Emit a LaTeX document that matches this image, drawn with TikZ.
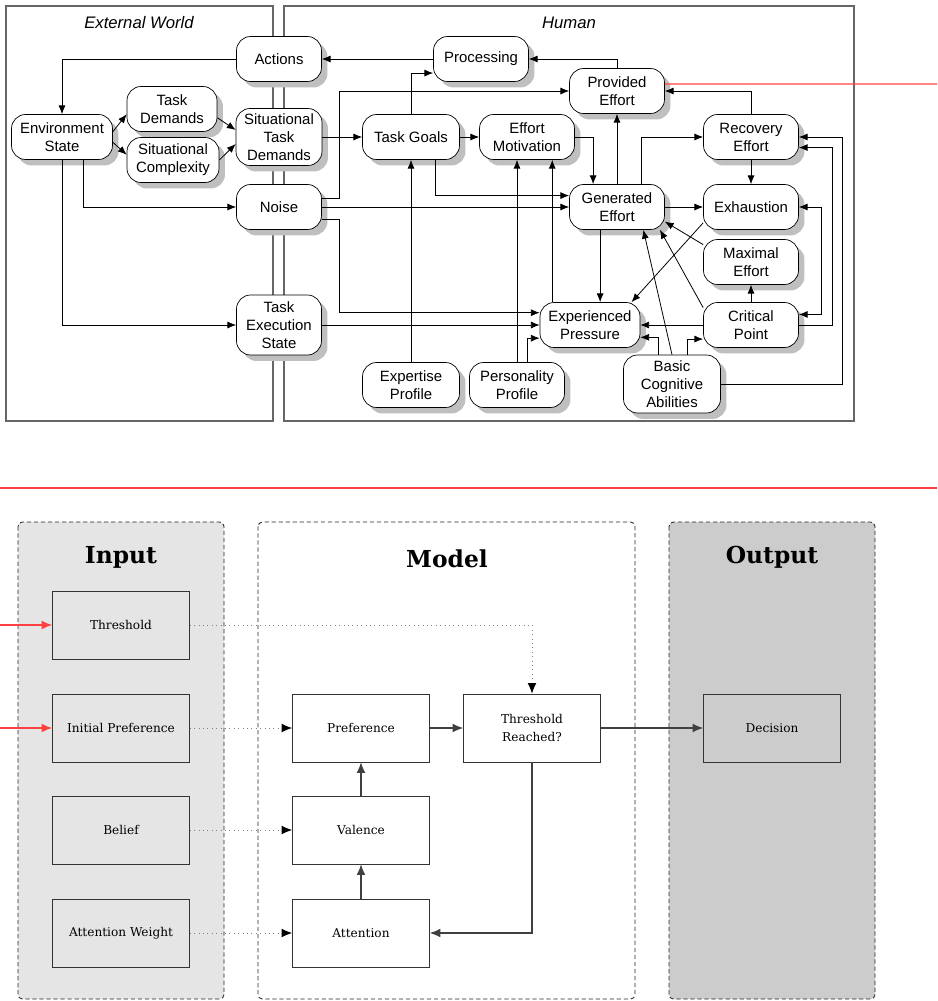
\documentclass[tikz,border=0pt]{standalone}
\usepackage{fontspec}
\setmainfont{DejaVu Serif}
\newfontfamily\arialfont{Liberation Sans}
\usetikzlibrary{shadows,arrows.meta}

\tikzset{
  state/.style={draw, fill=white, rounded corners=8pt, align=center,
    minimum width=1.9cm, minimum height=0.9cm, inner sep=1pt,
    font=\arialfont\fontsize{8.5}{10.2}\selectfont,
    general shadow={fill=gray!50, shadow xshift=3.4pt, shadow yshift=-3.4pt}},
  area/.style={draw=black!60, line width=0.9pt},
  title/.style={font=\arialfont\itshape\fontsize{9.5}{11}\selectfont},
  link/.style={-{Latex[length=5pt,width=4pt]}, line width=0.45pt},
  tap/.style={red!75, line width=0.7pt},
  blk/.style={draw=black!80, minimum width=2.74cm, minimum height=1.36cm,
    align=center, font=\fontsize{6.9}{9.8}\selectfont},
  panel/.style={draw=black!85, line width=0.5pt,
    dash pattern=on 2.4pt off 1.6pt, rounded corners=2.5pt},
  head/.style={anchor=base, font=\bfseries\fontsize{13.3}{16}\selectfont},
  feed/.style={-{Latex[length=6pt,width=5pt,black]}, gray, dotted, line width=0.5pt},
  flow/.style={-{Latex[length=6pt,width=5pt]}, black!75, line width=0.6pt},
}

\begin{document}
\begin{tikzpicture}[x=0.02cm, y=-0.02cm]
\useasboundingbox (0,0) rectangle (937,1001);

% world and human
\draw[area] (6,6) rectangle (273,421);
\draw[area] (284,6) rectangle (854,421);
\node[title] (ew) at (139,23) {External World};
\node[title] (hum) at (569,23) {Human};

\node[state, minimum width=1.7cm] (act) at (279,59) {Actions};
\node[state] (proc) at (481,59) {Processing};
\node[state] (prov) at (617,91) {Provided\\Effort};
\node[state, minimum width=2.02cm] (env) at (62,137) {Environment\\State};
\node[state, minimum width=1.8cm] (td) at (172,109) {Task\\Demands};
\node[state, minimum width=1.84cm] (sc) at (173,160) {Situational\\Complexity};
\node[state, minimum width=1.72cm, minimum height=1.14cm] (std) at (279,137) {Situational\\Task\\Demands};
\node[state, minimum width=1.94cm] (tg) at (411,137) {Task Goals};
\node[state] (em) at (527,137) {Effort\\Motivation};
\node[state] (re) at (751,137) {Recovery\\Effort};
\node[state, minimum width=1.7cm] (noise) at (279,207) {Noise};
\node[state] (ge) at (617,207) {Generated\\Effort};
\node[state] (exh) at (751,207) {Exhaustion};
\node[state] (me) at (751,262) {Maximal\\Effort};
\node[state, minimum width=2cm] (ep) at (590,325) {Experienced\\Pressure};
\node[state] (cp) at (751,325) {Critical\\Point};
\node[state, minimum width=1.7cm, minimum height=1.2cm] (tes) at (279,325) {Task\\Execution\\State};
\node[state, minimum width=1.94cm] (exp) at (411,385) {Expertise\\Profile};
\node[state] (pp) at (517,385) {Personality\\Profile};
\node[state, minimum width=1.94cm, minimum height=1.16cm] (bca) at (672,384) {Basic\\Cognitive\\Abilities};

\draw[link] (act) -| (env);
\draw[link] (proc) -- (act);
\draw[link] (prov) |- (proc);
\draw[link] ([yshift=3pt]env.east) -- ([yshift=-3pt]td.west);
\draw[link] ([yshift=-3pt]env.east) -- ([yshift=3pt]sc.west);
\draw[link] ([yshift=-5pt]td.east) -- ([yshift=4pt]std.west);
\draw[link] (sc.east) -- ([yshift=-4pt]std.west);
\draw[link] (std) -- (tg);
\draw[link] (tg) |- ([yshift=-8pt]proc.west);
\draw[link] ([yshift=5pt]noise.east) -- ++(18,0) |- (prov);
\draw[link] (tg) -- (em);
\draw[link] ([xshift=14pt]tg.south) |- ([yshift=6.5pt]ge.west);
\draw[link] (noise) -- (ge);
\draw[link] (em) -| ([xshift=-13.6pt]ge.north);
\draw[link] (ge) -- (prov);
\draw[link] ([xshift=14pt]ge.north) |- (re);
\draw[link] (re) |- (prov);
\draw[link] (re) -- (exh);
\draw[link] (ge) -- (exh);
\draw[link] ([yshift=4pt]exh.south west) -- ([xshift=-5pt]ep.north east);
\draw[link] (me.160) -- (ge.-17);
\draw[link] (cp.160) -- (ge.-28);
\draw[link] (bca.north) -- ([xshift=15pt]ge.south);
\draw[link] ([xshift=-9.6pt]ge.south) -- ([xshift=-9.6pt]ge.south |- ep.north);
\draw[link] (cp) -- (me);
\draw[link] (cp) -- (ep);
\draw[link] ([xshift=-8pt]bca.north) |- ([yshift=-7pt]ep.east);
\draw[link] ([xshift=8.5pt]bca.north) |- ([yshift=-8pt]cp.west);
\draw[link] (bca.east) -- ++(122,0) |- (re);
\draw[link] (cp.east) -- ++(34,0) |- ([yshift=-6pt]re.east);
\draw[link, {Latex[length=5pt,width=4pt]}-{Latex[length=5pt,width=4pt]}] (exh.east) -- ++(23,0) |- ([yshift=6pt]cp.east);
\draw[link] (pp) -- (pp |- em.south);
\draw[link] ([xshift=-21.5pt]ep.north) -- ([xshift=-21.5pt]ep.north |- em.south);
\draw[link] (exp) -- (tg);
\draw[link] ([yshift=-7pt]noise.east) -- ++(18,0) |- ([yshift=7pt]ep.west);
\draw[link] (tes) -- (ep);
\draw[link] ([xshift=6pt]pp.north) |- ([yshift=-7.5pt]ep.west);
\draw[link] ([xshift=12pt]env.south) |- (noise);
\draw[link] (env) |- (tes);

% input / model / output
\draw[panel, fill=gray!20] (18,522) rectangle (224,999);
\draw[panel] (258,522) rectangle (635,999);
\draw[panel, fill=gray!40] (669,522) rectangle (875,999);
\node[head] (hin) at (121,563) {Input};
\node[head] (hmod) at (447,567) {Model};
\node[head] (hout) at (772,563) {Output};

\node[blk, fill=gray!20] (thr) at (121,625) {Threshold};
\node[blk, fill=gray!20] (ipref) at (121,728) {Initial Preference};
\node[blk, fill=gray!20] (bel) at (121,830) {Belief};
\node[blk, fill=gray!20] (aw) at (121,933) {Attention Weight};
\node[blk, fill=white] (pref) at (361,728) {Preference};
\node[blk, fill=white] (tr) at (532,728) {Threshold\\Reached?};
\node[blk, fill=white] (val) at (361,830) {Valence};
\node[blk, fill=white] (att) at (361,933) {Attention};
\node[blk, fill=gray!40] (dec) at (772,728) {Decision};

\draw[feed] (thr) -| (tr);
\draw[feed] (ipref) -- (pref);
\draw[feed] (bel) -- (val);
\draw[feed] (aw) -- (att);
\draw[flow] (pref) -- (tr);
\draw[flow] (tr) -- (dec);
\draw[flow] (val) -- (pref);
\draw[flow] (att) -- (val);
\draw[flow] (tr) |- (att);

% red tie between the two parts
\coordinate (outR) at (937,84);
\coordinate (wrapL) at (0,488);
\coordinate (wrapR) at (937,488);
\coordinate (inA) at (0,625);
\coordinate (inB) at (0,728);
\draw[tap] ([yshift=4pt]prov.east) -- (outR);
\draw[tap] (wrapL) -- (wrapR);
\draw[tap, -{Latex[length=6pt,width=5pt]}] (inA) -- (thr);
\draw[tap, -{Latex[length=6pt,width=5pt]}] (inB) -- (ipref);
\end{tikzpicture}
\end{document}
